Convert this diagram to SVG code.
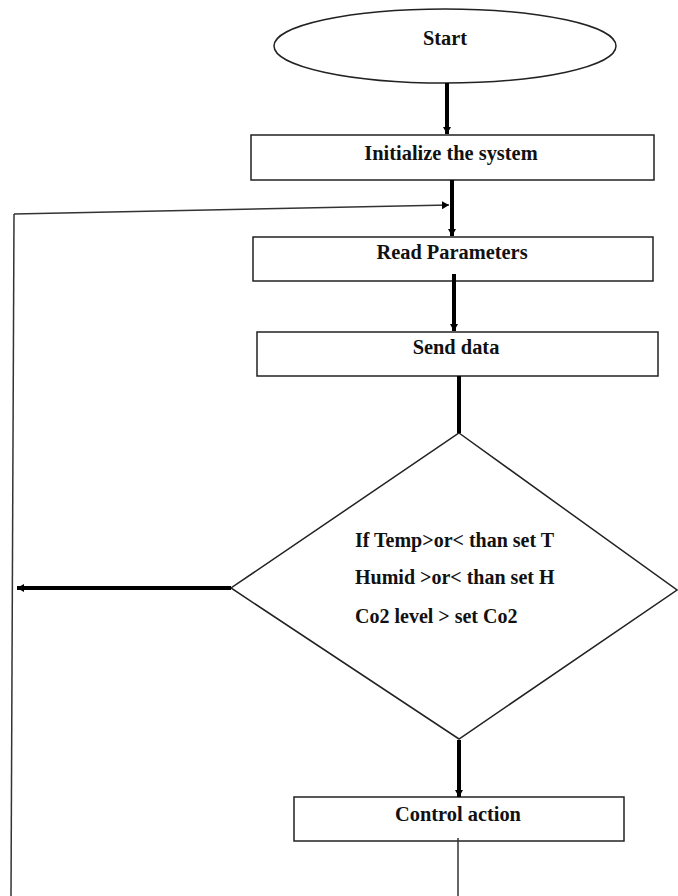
<svg xmlns="http://www.w3.org/2000/svg" width="678" height="896" viewBox="0 0 678 896">
<style>
.shape{fill:#fff;stroke:#222;stroke-width:1.5}
.lbl{font-family:"Liberation Serif","Times New Roman",serif;font-weight:bold;font-size:20.4px;fill:#111}
.dl{font-size:20px}
.thick{stroke:#000;stroke-width:4;fill:none}
.thin{stroke:#333;stroke-width:1.5;fill:none}
</style>
<defs>
<marker id="ah" markerUnits="userSpaceOnUse" markerWidth="9" markerHeight="9" refX="7" refY="4.5" orient="auto">
<path d="M0,0.5 L7,4.5 L0,8.5 z" fill="#000"/>
</marker>
</defs>
<rect width="678" height="896" fill="#fff"/>
<g id="start">
<ellipse class="shape" cx="445" cy="46" rx="171" ry="37"/>
<text class="lbl" x="445" y="45" text-anchor="middle">Start</text>
</g>
<g id="init">
<rect class="shape" x="251" y="135" width="403" height="45"/>
<text class="lbl" x="451" y="160" text-anchor="middle">Initialize the system</text>
</g>
<g id="read">
<rect class="shape" x="253" y="237" width="400" height="44"/>
<text class="lbl" x="452" y="259" text-anchor="middle">Read Parameters</text>
</g>
<g id="send">
<rect class="shape" x="257" y="332" width="401" height="44"/>
<text class="lbl" x="456" y="354" text-anchor="middle">Send data</text>
</g>
<g id="decision">
<polygon class="shape" points="459,433 677,590 459,739 231,588"/>
<text class="lbl dl" x="355" y="547">If Temp&gt;or&lt; than set T</text>
<text class="lbl dl" x="355" y="584">Humid &gt;or&lt; than set H</text>
<text class="lbl dl" x="355" y="623">Co2 level &gt; set Co2</text>
</g>
<g id="control">
<rect class="shape" x="294" y="797" width="330" height="44"/>
<text class="lbl" x="458" y="821" text-anchor="middle">Control action</text>
</g>
<g id="connectors">
<line class="thick" x1="447" y1="83" x2="447" y2="134" marker-end="url(#ah)"/>
<line class="thick" x1="452" y1="180" x2="452" y2="236" marker-end="url(#ah)"/>
<line class="thick" x1="454" y1="274" x2="454" y2="331" marker-end="url(#ah)"/>
<line class="thick" x1="459" y1="376" x2="459" y2="433"/>
<line class="thick" x1="459" y1="740" x2="459" y2="797" marker-end="url(#ah)"/>
<line class="thick" x1="231" y1="588" x2="17" y2="588" marker-end="url(#ah)"/>
<line class="thin" x1="14" y1="214" x2="449" y2="205" marker-end="url(#ah)"/>
<line class="thin" x1="14" y1="214" x2="11" y2="896"/>
<line class="thin" x1="458" y1="838" x2="458" y2="896"/>
</g>
</svg>
